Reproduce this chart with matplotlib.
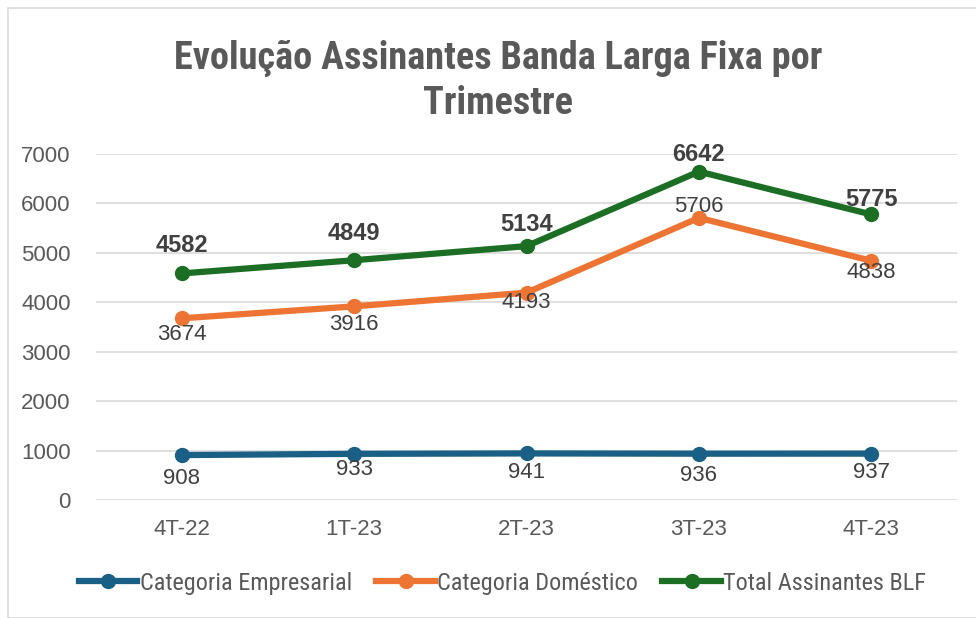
import matplotlib
matplotlib.use("Agg")
import matplotlib.pyplot as plt
from matplotlib.patches import Rectangle
from matplotlib import font_manager as fm

categories = ["4T-22", "1T-23", "2T-23", "3T-23", "4T-23"]
empresarial = [908, 933, 941, 936, 937]
domestico = [3674, 3916, 4193, 5706, 4838]
total = [4582, 4849, 5134, 6642, 5775]
yticks = [0, 1000, 2000, 3000, 4000, 5000, 6000, 7000]

# label offsets (pixels, positive = above the point)
off_emp = [-23, -16, -19, -22, -19]
off_dom = [-16, -18, -10, 11, -12]
off_tot = [28, 27, 22, 17, 15]

c_emp = "#1a5f85"
c_dom = "#ee7433"
c_tot = "#1b6e23"
txt = "#404040"

names = sorted({f.name for f in fm.fontManager.ttflist})
narrow_name = None
for pref in ["Liberation Sans Narrow", "Roboto Condensed", "Open Sans Condensed",
             "DejaVu Sans Condensed", "Noto Sans Condensed"]:
    if pref in names:
        narrow_name = pref
        break
if narrow_name is None:
    for n in names:
        if "Narrow" in n or "Condensed" in n:
            narrow_name = n
            break
if narrow_name is None:
    narrow_name = "Roboto"
narrow = [narrow_name, "DejaVu Sans"]
cond_stretch = "condensed"

fig = plt.figure(figsize=(9.76, 6.18), dpi=100)
fig.patches.append(Rectangle((8/976, 0), 1, 1 - 8/618, transform=fig.transFigure,
                             fill=False, edgecolor="#d9d9d9", linewidth=1.2))
ax = fig.add_axes([0.098, 0.191, 0.883, 0.56])
x = list(range(len(categories)))

ax.plot(x, empresarial, color=c_emp, lw=4.5, marker="o", ms=10, label="Categoria Empresarial", zorder=3)
ax.plot(x, domestico, color=c_dom, lw=4.5, marker="o", ms=10, label="Categoria Doméstico", zorder=3)
ax.plot(x, total, color=c_tot, lw=4.5, marker="o", ms=10, label="Total Assinantes BLF", zorder=3)

px2pt = 0.72
for i in x:
    ax.annotate(str(empresarial[i]), (i, empresarial[i]), xytext=(0, off_emp[i] * px2pt),
                textcoords="offset points", ha="center", va="center",
                fontsize=16, color=txt, family="Liberation Sans", zorder=4)
    ax.annotate(str(domestico[i]), (i, domestico[i]), xytext=(0, off_dom[i] * px2pt),
                textcoords="offset points", ha="center", va="center",
                fontsize=16, color=txt, family="Liberation Sans", zorder=4)
    ax.annotate(str(total[i]), (i, total[i]), xytext=(0, off_tot[i] * px2pt),
                textcoords="offset points", ha="center", va="center",
                fontsize=17, fontweight="bold", color=txt, family="Liberation Sans", zorder=4)

ax.set_xlim(-0.5, len(categories) - 0.5)
ax.set_ylim(0, 7000)
ax.set_yticks(yticks)
ax.set_xticks(x)
ax.set_xticklabels(categories)
ax.tick_params(axis="both", length=0, labelsize=16, labelcolor="#595959")
ax.tick_params(axis="x", pad=14)
ax.tick_params(axis="y", pad=18)
for lab in ax.get_xticklabels() + ax.get_yticklabels():
    lab.set_family("Liberation Sans")
ax.grid(axis="y", color="#d9d9d9", lw=1.2, zorder=0)
ax.set_axisbelow(True)
for s in ax.spines.values():
    s.set_visible(False)

fig.text(0.51, 0.869, "Evolução Assinantes Banda Larga Fixa por\nTrimestre", ha="center", va="center",
         fontsize=27.5, fontweight="bold", color="#595959", family=narrow, fontstretch=cond_stretch,
         linespacing=1.3)

leg = fig.legend(loc="center", bbox_to_anchor=(0.515, 0.056), ncol=3, frameon=False,
                 prop={"family": narrow, "size": 17.5, "stretch": cond_stretch},
                 handlelength=2.4, handletextpad=0.1, columnspacing=1.0, labelcolor="#595959")

fig.savefig("out.png", dpi=100)
